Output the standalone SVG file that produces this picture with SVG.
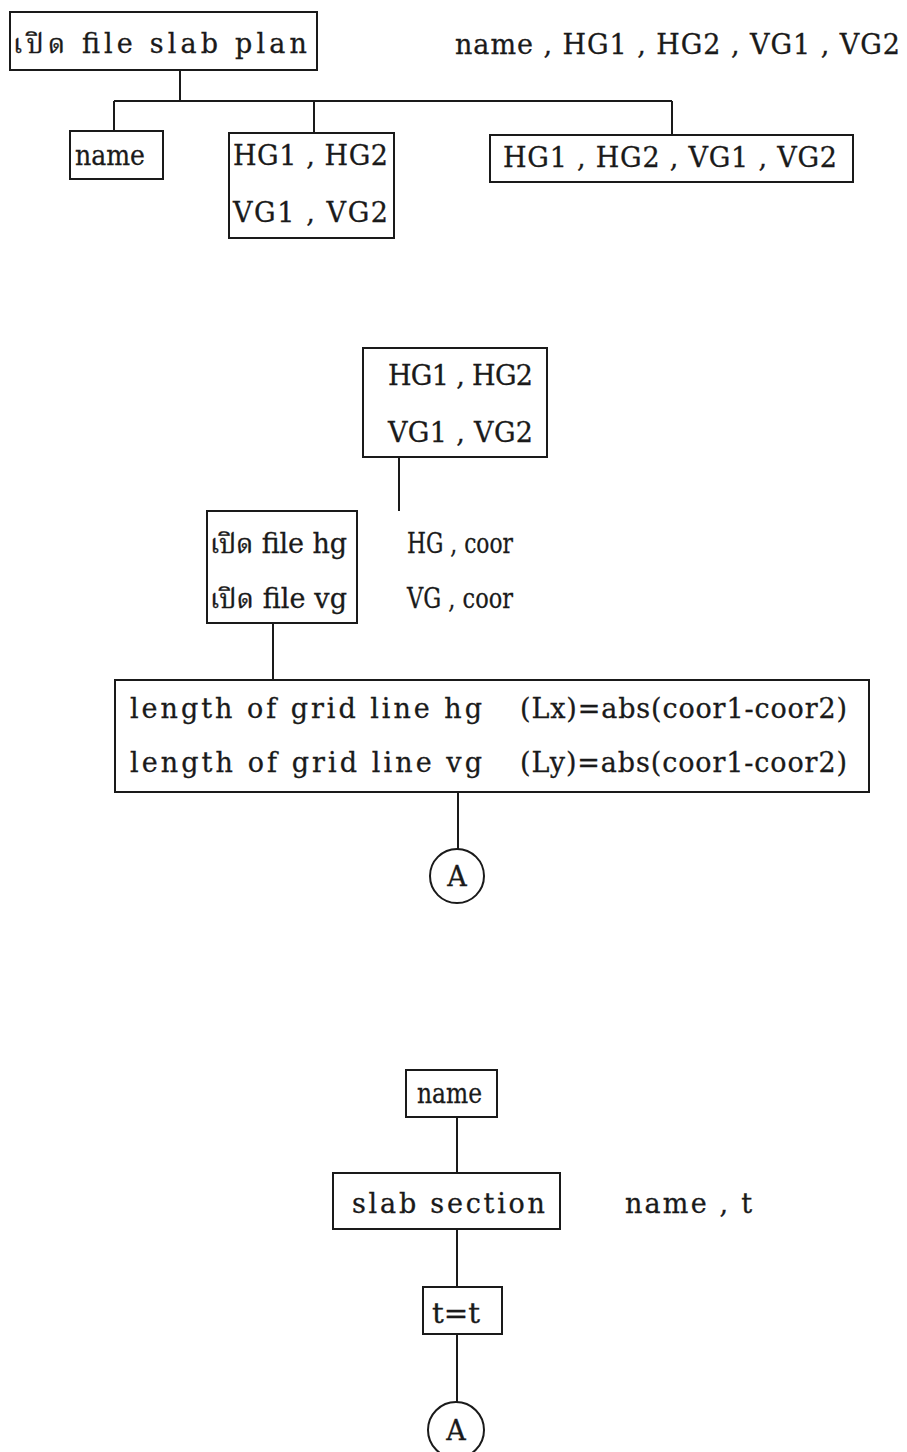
<svg xmlns="http://www.w3.org/2000/svg" width="907" height="1452" viewBox="0 0 907 1452">
<style>
.box{fill:#fff;stroke:#1a1a1a;stroke-width:2}
.ln{fill:none;stroke:#1a1a1a;stroke-width:2}
.t{font-family:"DejaVu Serif","Noto Serif Thai","Noto Sans Thai","Loma","Garuda",serif;font-size:27px;fill:#1a1a1a;stroke:#1a1a1a;stroke-width:0.3}
.c{text-anchor:middle}
</style>
<rect width="907" height="1452" fill="#fff"/>
<g id="connectors">
<path class="ln" d="M180 70V101M114 101H672M114 101V131M314 101V133M672 101V135"/>
<path class="ln" d="M399 457V511M273 623V680M458 792V849"/>
<path class="ln" d="M457 1117V1173M457 1229V1287M457 1334V1402"/>
</g>
<g id="n_open_slab_plan"><rect class="box" x="10" y="12" width="307" height="58"/><text class="t" x="13" y="53" textLength="294" lengthAdjust="spacing">เปิด file slab plan</text></g>
<g id="lbl_top"><text class="t" x="455" y="54" textLength="445" lengthAdjust="spacing">name , HG1 , HG2 , VG1 , VG2</text></g>
<g id="n_name1"><rect class="box" x="70" y="131" width="93" height="48"/><text class="t" x="75" y="165" textLength="70" lengthAdjust="spacingAndGlyphs">name</text></g>
<g id="n_hgvg1"><rect class="box" x="229" y="133" width="165" height="105"/><text class="t" x="233" y="165" textLength="155" lengthAdjust="spacing">HG1 , HG2</text><text class="t" x="233" y="222" textLength="155" lengthAdjust="spacing">VG1 , VG2</text></g>
<g id="n_hgvg_all"><rect class="box" x="490" y="135" width="363" height="47"/><text class="t" x="503" y="167" textLength="334" lengthAdjust="spacing">HG1 , HG2 , VG1 , VG2</text></g>
<g id="n_hgvg2"><rect class="box" x="363" y="348" width="184" height="109"/><text class="t" x="388" y="385" textLength="145" lengthAdjust="spacing">HG1 , HG2</text><text class="t" x="388" y="442" textLength="145" lengthAdjust="spacing">VG1 , VG2</text></g>
<g id="n_open_hg_vg"><rect class="box" x="207" y="511" width="150" height="112"/><text class="t" x="210" y="553" textLength="137" lengthAdjust="spacing">เปิด file hg</text><text class="t" x="210" y="608" textLength="137" lengthAdjust="spacing">เปิด file vg</text></g>
<g id="lbl_coor"><text class="t" x="407" y="553" font-size="25" textLength="106" lengthAdjust="spacingAndGlyphs">HG , coor</text><text class="t" x="407" y="608" font-size="25" textLength="106" lengthAdjust="spacingAndGlyphs">VG , coor</text></g>
<g id="n_length"><rect class="box" x="115" y="680" width="754" height="112"/><text class="t" x="130" y="718" textLength="352" lengthAdjust="spacing">length of grid line hg</text><text class="t" x="520" y="718" textLength="327" lengthAdjust="spacing">(Lx)=abs(coor1-coor2)</text><text class="t" x="130" y="772" textLength="352" lengthAdjust="spacing">length of grid line vg</text><text class="t" x="520" y="772" textLength="327" lengthAdjust="spacing">(Ly)=abs(coor1-coor2)</text></g>
<g id="n_A1"><circle class="box" cx="457" cy="876" r="27"/><text class="t c" x="457" y="886">A</text></g>
<g id="n_name2"><rect class="box" x="406" y="1070" width="91" height="47"/><text class="t" x="417" y="1103" textLength="65" lengthAdjust="spacingAndGlyphs">name</text></g>
<g id="n_slab_section"><rect class="box" x="333" y="1173" width="227" height="56"/><text class="t" x="352" y="1213" textLength="193" lengthAdjust="spacing">slab section</text></g>
<g id="lbl_name_t"><text class="t" x="625" y="1213" textLength="127" lengthAdjust="spacing">name , t</text></g>
<g id="n_t"><rect class="box" x="423" y="1287" width="79" height="47"/><text class="t" x="432" y="1323" textLength="48" lengthAdjust="spacingAndGlyphs">t=t</text></g>
<g id="n_A2"><circle class="box" cx="456" cy="1430" r="28"/><text class="t c" x="456" y="1440">A</text></g>
</svg>
